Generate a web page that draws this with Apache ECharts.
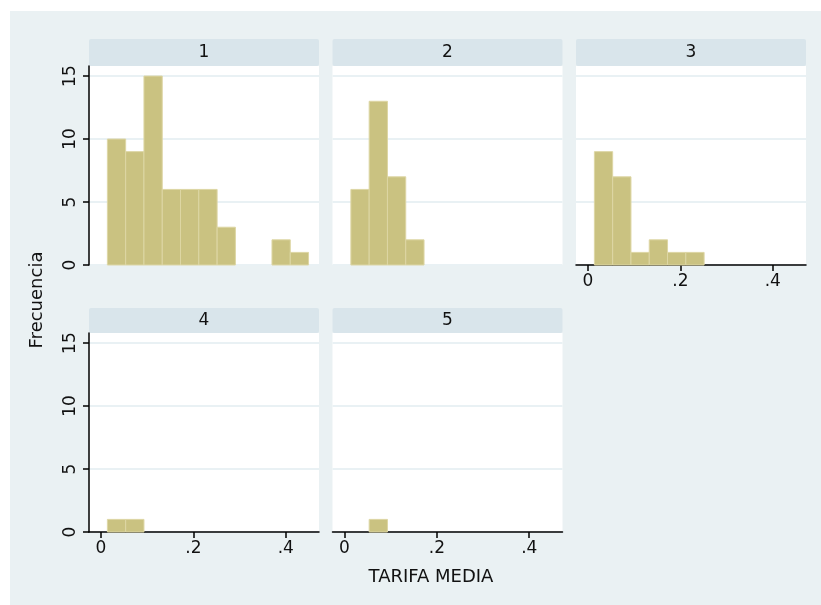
<!DOCTYPE html>
<html>
<head>
<meta charset="utf-8">
<script src="https://cdn.jsdelivr.net/npm/echarts@6/dist/echarts.min.js"></script>
<style>
  html, body { margin: 0; padding: 0; background: #fff; }
  #chart { width: 821px; height: 605px; }
</style>
</head>
<body>
<div id="chart"></div>
<script>
// 直方图分箱边界（各面板共用）
const BIN_EDGES = [0.0138, 0.0534, 0.0930, 0.1326, 0.1722, 0.2118, 0.2514, 0.2910, 0.3306, 0.3702, 0.4098, 0.4494];

// 每个面板的频数
const PANEL_NAMES = ['1', '2', '3', '4', '5'];
const COUNTS_1 = [10, 9, 15, 6, 6, 6, 3, 0, 0, 2, 1];
const COUNTS_2 = [6, 13, 7, 2];
const COUNTS_3 = [9, 7, 1, 2, 1, 1];
const COUNTS_4 = [1, 1];
const COUNTS_5 = [0, 1];
const PANEL_COUNTS = [COUNTS_1, COUNTS_2, COUNTS_3, COUNTS_4, COUNTS_5];

// 刻度
const Y_TICKS = [0, 5, 10, 15];
const X_TICKS = [0, 0.2, 0.4];

const FONT = 'DejaVu Sans';
const BG = '#eaf1f3';
const HEADER_BG = '#d9e5eb';
const GRID_LINE = '#e9f1f4';
const BAR_FILL = '#cac281';
const BAR_EDGE = '#ddd6a4';

// 面板布局：列左边界、行上边界
const COL_LEFT = [89, 332.5, 576];
const ROW_TOP = [66, 333];
const ROW_HEADER = [[39, 27], [308, 25]];
const PLOT_W = 230;
const PLOT_H = 199;

const chart = echarts.init(document.getElementById('chart'));

const grids = [], xAxes = [], yAxes = [], series = [], graphics = [];

graphics.push({
  type: 'rect', z: -10, silent: true,
  shape: { x: 10, y: 11, width: 811, height: 594 },
  style: { fill: BG }
});

PANEL_COUNTS.forEach((counts, i) => {
  const col = i % 3, row = Math.floor(i / 3);
  const left = COL_LEFT[col], top = ROW_TOP[row];
  const showY = col === 0;
  // 每列最下方的面板显示x轴
  const showX = i >= 2;

  grids.push({
    left: left, top: top, width: PLOT_W, height: PLOT_H,
    show: true, backgroundColor: '#fff', borderWidth: 0, containLabel: false
  });

  xAxes.push({
    type: 'value', gridIndex: i, min: -0.026, max: 0.472,
    axisLine: { show: showX, onZero: false, lineStyle: { color: '#000', width: 1.5 } },
    axisTick: { show: showX, length: 6, customValues: X_TICKS, lineStyle: { color: '#000', width: 1.5 } },
    axisLabel: {
      show: showX, customValues: X_TICKS, margin: 8,
      fontFamily: FONT, fontSize: 17, color: '#111',
      formatter: v => v === 0 ? '0' : String(v).replace(/^0/, '')
    },
    splitLine: { show: false }
  });

  yAxes.push({
    type: 'value', gridIndex: i, min: 0, max: 15.8,
    axisLine: { show: showY, onZero: false, lineStyle: { color: '#000', width: 1.5 } },
    axisTick: { show: showY, length: 6, customValues: Y_TICKS, lineStyle: { color: '#000', width: 1.5 } },
    axisLabel: {
      show: showY, customValues: Y_TICKS, rotate: 90, margin: 10,
      fontFamily: FONT, fontSize: 17, color: '#111'
    },
    splitLine: { show: true, lineStyle: { color: GRID_LINE, width: 2 } }
  });

  // 直方图柱：[左边界, 右边界, 频数]
  const data = [];
  counts.forEach((c, k) => {
    if (c > 0) data.push([BIN_EDGES[k], BIN_EDGES[k + 1], c]);
  });

  series.push({
    type: 'custom', xAxisIndex: i, yAxisIndex: i, data: data,
    renderItem: (params, api) => {
      const p0 = api.coord([api.value(0), api.value(2)]);
      const p1 = api.coord([api.value(1), 0]);
      return {
        type: 'rect',
        shape: { x: p0[0], y: p0[1], width: p1[0] - p0[0], height: p1[1] - p0[1] },
        style: { fill: BAR_FILL, stroke: BAR_EDGE, lineWidth: 1 }
      };
    }
  });

  // 面板标题条
  const hdr = ROW_HEADER[row];
  graphics.push({
    type: 'rect', silent: true,
    shape: { x: left, y: hdr[0], width: PLOT_W, height: hdr[1], r: 2 },
    style: { fill: HEADER_BG }
  });
  graphics.push({
    type: 'text', silent: true,
    x: left + PLOT_W / 2, y: hdr[0] + hdr[1] / 2,
    style: {
      text: PANEL_NAMES[i], fontFamily: FONT, fontSize: 17, fill: '#111',
      align: 'center', verticalAlign: 'middle'
    }
  });
});

// 轴标题
graphics.push({
  type: 'text', silent: true, x: 37.5, y: 300, rotation: Math.PI / 2,
  style: {
    text: 'Frecuencia', fontFamily: FONT, fontSize: 18, fill: '#111',
    align: 'center', verticalAlign: 'middle'
  }
});
graphics.push({
  type: 'text', silent: true, x: 431, y: 577,
  style: {
    text: 'TARIFA MEDIA', fontFamily: FONT, fontSize: 18, fill: '#111',
    align: 'center', verticalAlign: 'middle'
  }
});

chart.setOption({
  animation: false,
  backgroundColor: '#fff',
  grid: grids,
  xAxis: xAxes,
  yAxis: yAxes,
  series: series,
  graphic: graphics
});
</script>
</body>
</html>
